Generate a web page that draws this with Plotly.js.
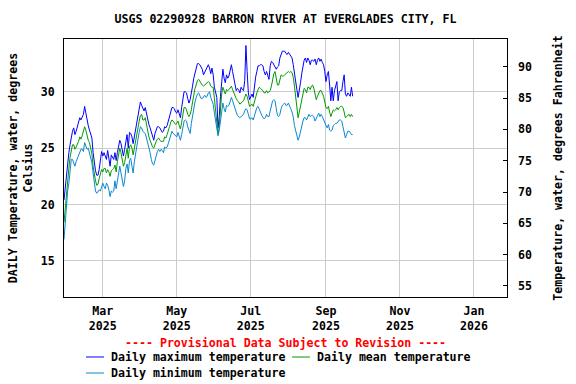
<!DOCTYPE html>
<html>
<head>
<meta charset="utf-8">
<script src="https://cdn.plot.ly/plotly-3.0.1.min.js"></script>
<style>html,body{margin:0;padding:0;background:#fff;}#chart{width:576px;height:384px;}</style>
</head>
<body>
<div id="chart"></div>
<script>
// First day of the daily series (one value per day after this date)
const startDate = '2025-01-28';

// Daily maximum water temperature, deg C
const maxTemp = [
20.4,21.6,22.8,23.8,24.6,25.3,26.0,26.5,26.8,26.2,26.5,26.9,27.3,27.7,27.5,27.8,28.0,28.7,28.1,27.4,
27.0,26.6,26.3,25.9,24.6,23.6,23.0,22.6,22.6,23.1,23.8,24.7,24.3,24.6,24.3,24.0,24.8,24.2,23.4,24.4,
24.2,24.0,24.6,23.9,24.6,25.2,25.7,25.4,24.9,24.3,24.9,25.8,26.2,25.0,26.4,26.3,26.0,25.4,26.0,26.6,
27.5,27.8,28.6,29.1,28.8,28.5,28.3,28.6,28.0,27.5,27.1,26.8,26.4,26.0,25.7,26.3,26.6,26.9,26.9,26.8,
26.6,26.4,26.5,26.9,26.8,27.0,27.4,27.9,28.3,28.6,28.6,28.5,28.2,28.1,28.4,28.0,27.7,28.6,29.5,30.0,
30.0,29.9,29.4,29.0,29.3,29.8,30.5,31.2,31.7,32.2,32.5,32.5,32.4,32.2,32.0,31.5,31.7,31.9,32.2,32.4,
32.1,31.6,32.1,31.5,30.4,29.8,29.5,26.8,27.8,29.6,31.2,32.0,31.2,30.8,31.5,31.2,31.4,31.8,32.4,31.8,
31.2,30.6,30.1,30.3,30.2,29.9,30.4,30.2,30.1,31.0,34.1,31.8,29.9,29.3,29.5,29.8,29.5,30.5,31.3,31.8,
32.3,32.3,32.4,32.4,32.3,31.8,31.5,31.8,31.3,31.1,32.3,32.7,32.6,32.4,32.1,32.0,32.2,32.3,33.0,33.4,
33.6,33.6,33.6,33.4,33.3,33.5,33.3,33.1,33.0,32.4,31.5,30.8,30.2,29.5,30.4,30.8,31.6,32.4,32.8,33.0,
32.6,33.0,32.8,32.4,32.8,32.8,32.7,32.9,32.4,32.8,33.0,32.7,32.9,32.6,32.4,31.8,30.9,31.5,31.8,30.6,
29.2,30.4,29.2,30.1,30.6,30.9,29.2,30.0,30.1,30.1,30.9,31.5,29.8,29.6,29.9,29.7,29.6,30.4,29.6
];

// Daily mean water temperature, deg C
const meanTemp = [
18.4,19.8,21.2,22.2,23.2,24.2,25.0,25.3,25.3,24.9,25.1,25.3,25.6,26.0,25.8,26.1,26.5,26.9,26.6,26.1,
25.7,25.5,25.1,24.5,23.4,22.6,22.1,21.7,21.8,22.3,22.8,23.1,22.9,23.2,23.2,22.8,23.1,22.9,22.5,23.0,
23.1,23.2,23.5,22.9,23.8,24.5,25.0,24.6,24.0,23.4,23.7,24.6,25.0,24.1,25.1,25.3,25.0,24.4,25.0,25.8,
26.5,26.8,27.4,27.9,28.0,27.5,27.5,27.7,27.0,26.5,26.0,25.7,25.4,25.1,25.0,25.4,25.6,25.8,25.9,25.7,
25.6,25.6,25.6,26.0,25.9,26.2,26.5,26.9,27.3,27.5,27.4,27.2,27.1,27.2,27.4,27.0,26.7,27.3,28.1,28.6,
28.6,28.4,28.0,27.8,28.0,28.4,29.1,29.8,30.3,30.6,31.0,31.1,30.9,30.7,30.6,30.5,30.6,30.7,30.8,30.9,
30.8,30.5,30.4,30.4,29.4,28.3,27.4,26.2,26.9,28.4,29.8,30.4,30.0,29.8,30.2,30.1,30.2,30.4,30.5,30.2,
29.9,29.6,29.4,29.2,29.1,28.9,29.0,29.1,29.2,29.5,29.8,29.6,29.0,28.7,28.8,28.9,28.7,29.2,29.6,29.9,
30.2,30.4,30.3,30.2,30.1,29.9,29.9,30.1,29.9,30.0,30.1,30.5,31.2,31.6,31.8,31.1,30.6,30.6,31.2,31.5,
31.4,31.4,31.5,31.6,31.7,31.8,31.7,31.8,31.7,31.3,30.5,29.6,28.9,27.7,28.2,28.8,29.2,29.8,30.3,30.2,
29.9,30.4,30.4,30.2,30.5,30.6,30.3,29.8,29.3,29.6,29.9,30.1,30.1,29.9,29.6,29.1,28.6,28.5,28.7,28.2,
27.8,28.1,28.4,28.3,28.4,28.6,28.4,28.6,28.7,28.7,28.6,28.2,27.7,27.8,27.9,28.0,27.8,28.0,27.8
];

// Daily minimum water temperature, deg C
const minTemp = [
16.9,18.3,20.2,21.2,21.9,22.8,24.0,24.0,23.6,23.4,23.8,24.1,24.4,24.6,24.9,24.9,24.7,25.5,25.2,24.9,
25.0,24.6,24.2,23.7,22.8,21.8,21.2,21.0,21.2,21.3,21.2,21.6,21.9,21.6,21.4,21.9,21.7,21.3,20.7,21.2,
21.1,21.2,22.1,21.4,22.2,22.9,23.4,22.8,22.2,21.6,22.1,23.2,23.6,22.8,23.9,24.1,23.4,22.8,23.8,24.6,
25.3,25.8,26.4,26.9,26.8,26.5,26.4,26.3,25.9,25.5,25.0,24.6,24.0,23.6,23.5,24.0,24.3,24.7,24.9,24.7,
24.9,24.8,24.6,25.1,25.0,25.1,25.4,25.8,26.2,26.5,26.3,26.2,26.1,26.0,26.4,26.1,25.7,26.2,26.9,27.4,
27.5,27.4,26.9,26.5,26.3,27.2,27.9,28.6,29.1,29.5,29.8,29.9,29.7,29.4,29.4,29.6,29.7,29.5,29.6,29.9,
30.0,29.5,29.2,28.9,28.1,27.4,26.7,26.1,26.6,27.6,28.6,29.0,28.5,28.2,28.8,28.7,28.8,29.2,29.5,29.2,
28.8,28.4,28.2,27.9,27.8,27.7,27.8,27.9,28.0,28.3,28.5,28.4,28.0,27.6,27.6,27.7,27.5,27.9,28.3,28.6,
28.7,28.5,28.2,27.9,27.7,27.6,27.7,28.0,27.8,27.8,28.3,28.8,29.2,29.3,29.2,28.5,27.9,27.8,28.0,28.5,
28.8,28.9,29.0,28.8,28.8,29.0,28.8,28.5,28.2,27.8,27.0,26.6,26.2,25.7,26.0,26.5,27.1,27.4,27.7,27.7,
27.5,27.8,28.0,27.8,27.9,27.9,27.8,27.4,27.6,27.9,28.1,27.8,28.0,27.8,27.5,27.2,27.0,26.8,27.1,26.6,
26.5,26.6,27.0,27.1,27.2,27.2,27.4,27.5,27.5,27.4,26.9,26.3,25.9,26.2,26.5,26.5,26.4,26.2,26.2
];

// X axis tick dates and labels
const tickDates = ['2025-03-01','2025-05-01','2025-07-01','2025-09-01','2025-11-01','2026-01-01'];
const tickLabels = ['Mar<br>2025','May<br>2025','Jul<br>2025','Sep<br>2025','Nov<br>2025','Jan<br>2026'];
const xRange = ['2025-01-28', '2026-01-28 06:00'];
const yRangeC = [11.8, 34.68];
const seriesNames = ['Daily maximum temperature','Daily mean temperature','Daily minimum temperature'];
const seriesColors = ['#0000ff','#009a00','#0a88d0'];

// Build daily date strings
function buildDates(start, n) {
  const out = [];
  const d0 = new Date(start + 'T00:00:00Z');
  for (let i = 0; i < n; i++) {
    const d = new Date(d0.getTime() + i * 86400000);
    out.push(d.toISOString().slice(0, 10));
  }
  return out;
}
const dates = buildDates(startDate, maxTemp.length);

const FONT = {family: '"DejaVu Sans Mono", monospace', size: 11.6, color: '#000', weight: 'bold'};

// plot-area geometry in pixels (for placing the key below the plot)
const PL = 64, PW = 443, PT = 39, PH = 258;
const px2x = p => (p - PL) / PW;
const py2y = p => (PT + PH - p) / PH;

const traces = [maxTemp, meanTemp, minTemp].map((vals, i) => ({
  type: 'scatter', mode: 'lines', x: dates, y: vals,
  name: seriesNames[i], line: {color: seriesColors[i], width: 1},
  xaxis: 'x', yaxis: 'y', hoverinfo: 'skip', showlegend: false
}));
// invisible trace to activate the Fahrenheit axis
traces.push({type: 'scatter', mode: 'lines', x: [dates[0]], y: [maxTemp[0] * 1.8 + 32],
  yaxis: 'y2', showlegend: false, line: {width: 0}, hoverinfo: 'skip', opacity: 0});

// key below the chart: [line start px, row centre px] per series
const keyPos = [[86, 357], [292, 357], [86, 373]];
const shapes = [], annotations = [];
keyPos.forEach(([x0, yc], i) => {
  shapes.push({type: 'line', xref: 'paper', yref: 'paper',
    x0: px2x(x0), x1: px2x(x0 + 18), y0: py2y(yc), y1: py2y(yc),
    line: {color: seriesColors[i], width: 1}});
  annotations.push({text: seriesNames[i], xref: 'paper', yref: 'paper',
    x: px2x(x0 + 23), y: py2y(yc), xanchor: 'left', yanchor: 'middle', showarrow: false,
    font: FONT});
});
annotations.push({
  text: '---- Provisional Data Subject to Revision ----', xref: 'paper', yref: 'paper',
  x: 0.5, y: py2y(343), xanchor: 'center', yanchor: 'middle', showarrow: false,
  font: {family: FONT.family, size: 11.6, color: '#ff0000', weight: 'bold'}
});

const layout = {
  width: 576, height: 384,
  margin: {l: PL, r: 576 - PL - PW, t: PT, b: 384 - PT - PH, pad: 0, autoexpand: false},
  paper_bgcolor: '#fff', plot_bgcolor: '#fff',
  font: FONT,
  title: {text: 'USGS 02290928 BARRON RIVER AT EVERGLADES CITY, FL', font: FONT,
          x: 0.5, xref: 'paper', xanchor: 'center', y: 1 - 19/384, yref: 'container', yanchor: 'middle'},
  xaxis: {
    type: 'date', range: xRange, tickvals: tickDates, ticktext: tickLabels,
    showgrid: true, gridcolor: '#cccccc', gridwidth: 1,
    showline: true, linecolor: '#000', linewidth: 1, mirror: true,
    ticks: '', tickfont: FONT, zeroline: false, ticklabelstandoff: 3, automargin: false
  },
  yaxis: {
    range: yRangeC, tickvals: [15, 20, 25, 30], ticktext: ['15','20','25','30'],
    showgrid: true, gridcolor: '#cccccc', gridwidth: 1,
    showline: true, linecolor: '#000', linewidth: 1, mirror: true,
    ticks: '', tickfont: FONT, zeroline: false, ticklabelstandoff: 6, automargin: false,
    title: {text: 'DAILY Temperature, water, degrees<br>Celsius', font: FONT, standoff: 5}
  },
  yaxis2: {
    overlaying: 'y', side: 'right',
    range: [yRangeC[0] * 1.8 + 32, yRangeC[1] * 1.8 + 32],
    tickvals: [55, 60, 65, 70, 75, 80, 85, 90],
    showgrid: false, zeroline: false, showline: false, automargin: false,
    ticks: 'inside', ticklen: 4, tickcolor: '#000', tickwidth: 1,
    tickfont: FONT, ticklabelstandoff: 10,
    title: {text: 'Temperature, water, degrees Fahrenheit', font: FONT, standoff: 22}
  },
  showlegend: false,
  shapes: shapes,
  annotations: annotations
};

Plotly.newPlot('chart', traces, layout, {staticPlot: true, displayModeBar: false});
</script>
</body>
</html>
